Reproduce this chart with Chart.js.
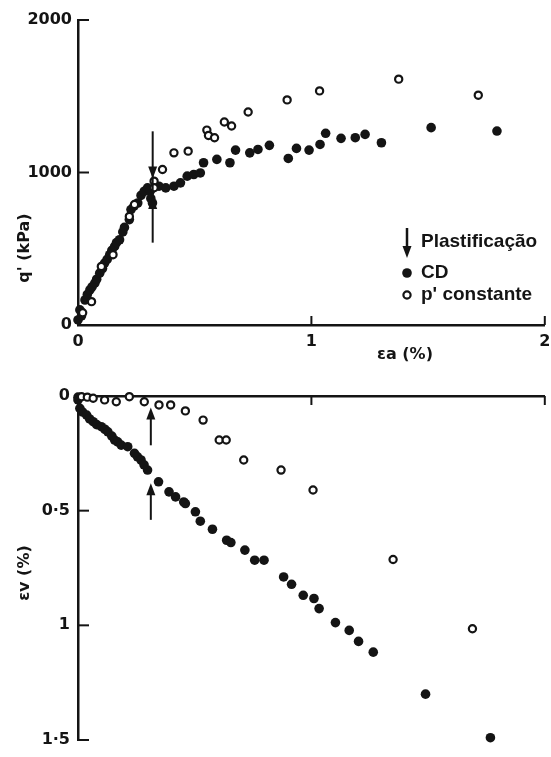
<!DOCTYPE html>
<html>
<head>
<meta charset="utf-8">
<title>q' e εv versus εa</title>
<script src="https://cdn.jsdelivr.net/npm/chart.js@4/dist/chart.umd.min.js"></script>
<style>
  html, body { margin: 0; padding: 0; background: #fff; }
  #wrap { position: relative; width: 551px; height: 757px; }
  #topChart { position: absolute; left: 0; top: 0; }
  #bottomChart { position: absolute; left: 0; top: 360px; }
</style>
</head>
<body>
<div id="wrap">
  <canvas id="topChart" width="551" height="372"></canvas>
  <canvas id="bottomChart" width="551" height="397"></canvas>
</div>
<script>
// --- data: [εa (%), value] ---
const topCD = [
  [0, 33], [0.008, 99], [0.015, 60], [0.03, 164], [0.04, 200], [0.051, 230], [0.06, 250],
  [0.072, 274], [0.08, 300], [0.093, 340], [0.105, 370], [0.114, 406], [0.125, 430],
  [0.136, 461], [0.145, 490], [0.157, 515], [0.165, 540], [0.178, 559], [0.192, 610],
  [0.199, 640], [0.22, 691], [0.227, 757], [0.24, 780], [0.256, 800], [0.27, 850],
  [0.284, 877], [0.298, 899], [0.31, 880], [0.312, 830], [0.319, 800], [0.347, 910],
  [0.376, 899], [0.411, 910], [0.439, 932], [0.468, 976], [0.496, 987], [0.524, 997],
  [0.538, 1064], [0.595, 1086], [0.651, 1064], [0.675, 1147], [0.736, 1129], [0.771, 1151],
  [0.82, 1178], [0.901, 1092], [0.936, 1158], [0.99, 1147], [1.037, 1184], [1.061, 1257],
  [1.127, 1224], [1.188, 1228], [1.23, 1250], [1.3, 1195], [1.513, 1294], [1.795, 1272]
];
const topPConst = [
  [0.02, 80], [0.058, 153], [0.1, 384], [0.15, 461], [0.22, 712], [0.242, 790],
  [0.326, 943], [0.326, 900], [0.362, 1020], [0.411, 1129], [0.472, 1140], [0.552, 1278],
  [0.559, 1243], [0.585, 1228], [0.627, 1331], [0.658, 1305], [0.729, 1397], [0.896, 1476],
  [1.035, 1535], [1.374, 1612], [1.715, 1507]
];
const bottomCD = [
  [0, 0.005], [0, 0.017], [0.008, 0.054], [0.02, 0.07], [0.037, 0.083], [0.05, 0.1],
  [0.065, 0.112], [0.08, 0.125], [0.1, 0.134], [0.115, 0.145], [0.128, 0.156], [0.145, 0.175],
  [0.157, 0.192], [0.17, 0.2], [0.185, 0.214], [0.213, 0.221], [0.242, 0.25], [0.255, 0.265],
  [0.27, 0.279], [0.283, 0.3], [0.298, 0.323], [0.345, 0.374], [0.39, 0.418], [0.418, 0.44],
  [0.453, 0.462], [0.46, 0.469], [0.503, 0.505], [0.524, 0.546], [0.576, 0.581], [0.637, 0.629],
  [0.655, 0.639], [0.715, 0.672], [0.757, 0.716], [0.797, 0.716], [0.881, 0.789], [0.915, 0.821],
  [0.965, 0.869], [1.011, 0.883], [1.033, 0.927], [1.103, 0.988], [1.162, 1.022], [1.202, 1.07],
  [1.265, 1.117], [1.489, 1.3], [1.767, 1.49]
];
const bottomPConst = [
  [0.015, 0.003], [0.04, 0.005], [0.065, 0.01], [0.114, 0.017], [0.164, 0.025], [0.22, 0.003],
  [0.284, 0.025], [0.347, 0.039], [0.397, 0.039], [0.46, 0.065], [0.536, 0.105], [0.605, 0.192],
  [0.635, 0.192], [0.71, 0.279], [0.87, 0.323], [1.007, 0.41], [1.35, 0.713], [1.69, 1.015]
];

// plastificação markers: [εa, from, to]  (arrow head at "to")
const topArrowStem = [0.32, 1270, 540];
const topArrowHeads = [[0.32, 1060, 960], [0.32, 740, 840]];
const bottomArrows = [[0.312, 0.215, 0.05], [0.312, 0.54, 0.38]];

const topYTicks = [0, 1000, 2000];
const bottomYTicks = ["0", "0·5", "1", "1·5"];
const legendLabels = ["Plastificação", "CD", "p' constante"];

const ink = "#141414";
const tickFont = { family: "DejaVu Sans", weight: "bold", size: 16 };

const toXY = (arr) => arr.map((p) => ({ x: p[0], y: p[1] }));

// short tick marks pointing into the plot
const inwardTicks = {
  id: "inwardTicks",
  afterDraw(chart, args, opts) {
    const { ctx, chartArea: a } = chart;
    const xs = chart.scales.x;
    const ys = chart.scales.y;
    ctx.save();
    ctx.strokeStyle = ink;
    ctx.lineWidth = 2;
    xs.ticks.forEach((t) => {
      if (t.value === 0) return;
      const px = xs.getPixelForValue(t.value);
      const y0 = xs.position === "top" ? a.top : a.bottom;
      const dir = xs.position === "top" ? 1 : -1;
      ctx.beginPath();
      ctx.moveTo(px, y0);
      ctx.lineTo(px, y0 + dir * 9);
      ctx.stroke();
    });
    ys.ticks.forEach((t) => {
      if (t.value === 0) return;
      const py = ys.getPixelForValue(t.value);
      ctx.beginPath();
      ctx.moveTo(a.left, py);
      ctx.lineTo(a.left + 11, py);
      ctx.stroke();
    });
    ctx.restore();
  },
};

function drawHead(ctx, x, yTip, dir) {
  // dir = 1 points down, -1 points up
  ctx.beginPath();
  ctx.moveTo(x, yTip);
  ctx.lineTo(x - 4.5, yTip - dir * 12);
  ctx.lineTo(x + 4.5, yTip - dir * 12);
  ctx.closePath();
  ctx.fill();
}

const plastArrows = {
  id: "plastArrows",
  afterDatasetsDraw(chart, args, opts) {
    const { ctx } = chart;
    const xs = chart.scales.x;
    const ys = chart.scales.y;
    ctx.save();
    ctx.strokeStyle = ink;
    ctx.fillStyle = ink;
    ctx.lineWidth = 2;
    (opts.stems || []).forEach((s) => {
      const px = xs.getPixelForValue(s[0]);
      ctx.beginPath();
      ctx.moveTo(px, ys.getPixelForValue(s[1]));
      ctx.lineTo(px, ys.getPixelForValue(s[2]));
      ctx.stroke();
    });
    (opts.heads || []).forEach((h) => {
      const px = xs.getPixelForValue(h[0]);
      const from = ys.getPixelForValue(h[1]);
      const tip = ys.getPixelForValue(h[2]);
      drawHead(ctx, px, tip, tip > from ? 1 : -1);
    });
    (opts.arrows || []).forEach((h) => {
      const px = xs.getPixelForValue(h[0]);
      const from = ys.getPixelForValue(h[1]);
      const tip = ys.getPixelForValue(h[2]);
      const dir = tip > from ? 1 : -1;
      ctx.beginPath();
      ctx.moveTo(px, from);
      ctx.lineTo(px, tip - dir * 8);
      ctx.stroke();
      drawHead(ctx, px, tip, dir);
    });
    ctx.restore();
  },
};

// axis titles placed like in the scan (off-centre)
const axisTitles = {
  id: "axisTitles",
  afterDraw(chart, args, opts) {
    const { ctx } = chart;
    ctx.save();
    ctx.fillStyle = ink;
    ctx.font = "bold 16px 'DejaVu Sans'";
    ctx.textAlign = "center";
    ctx.textBaseline = "middle";
    (opts.items || []).forEach((it) => {
      ctx.save();
      ctx.translate(it.x, it.y);
      if (it.rotate) ctx.rotate(-Math.PI / 2);
      ctx.fillText(it.text, 0, 0);
      ctx.restore();
    });
    ctx.restore();
  },
};

const sideLegend = {
  id: "sideLegend",
  afterDraw(chart, args, opts) {
    if (!opts.show) return;
    const { ctx } = chart;
    const sx = 407;
    const tx = 421;
    const rows = [242, 273, 295];
    ctx.save();
    ctx.fillStyle = ink;
    ctx.strokeStyle = ink;
    ctx.font = "bold 19px 'Liberation Sans'";
    ctx.textBaseline = "middle";
    ctx.textAlign = "left";
    // arrow
    ctx.lineWidth = 2.5;
    ctx.beginPath();
    ctx.moveTo(sx, 228);
    ctx.lineTo(sx, 250);
    ctx.stroke();
    drawHead(ctx, sx, 258, 1);
    ctx.fillText(legendLabels[0], tx, rows[0]);
    // filled dot
    ctx.beginPath();
    ctx.arc(sx, rows[1], 4.8, 0, Math.PI * 2);
    ctx.fill();
    ctx.fillText(legendLabels[1], tx, rows[1]);
    // open dot
    ctx.lineWidth = 2.2;
    ctx.beginPath();
    ctx.arc(sx, rows[2], 3.6, 0, Math.PI * 2);
    ctx.stroke();
    ctx.fillText(legendLabels[2], tx, rows[2]);
    ctx.restore();
  },
};

function datasets(cd, pc) {
  return [
    {
      label: legendLabels[2],
      data: toXY(pc),
      pointStyle: "circle",
      pointRadius: 3.6,
      pointBorderWidth: 2.2,
      borderColor: ink,
      backgroundColor: "#fff",
      clip: false,
    },
    {
      label: legendLabels[1],
      data: toXY(cd),
      pointStyle: "circle",
      pointRadius: 4.8,
      pointBorderWidth: 0,
      borderColor: ink,
      backgroundColor: ink,
      clip: false,
    },
  ];
}

const axisBorder = { display: true, color: ink, width: 2.5 };
const noGrid = { display: false, drawTicks: false, tickLength: 0 };

// top: q' vs εa
new Chart(document.getElementById("topChart"), {
  type: "scatter",
  data: { datasets: datasets(topCD, topPConst) },
  options: {
    responsive: false,
    animation: false,
    layout: { padding: { top: 20, right: 1, bottom: 0, left: 0 } },
    scales: {
      x: {
        type: "linear",
        min: 0,
        max: 2,
        border: axisBorder,
        grid: noGrid,
        ticks: { stepSize: 1, padding: 7, color: ink, font: tickFont, maxRotation: 0 },
        afterFit: (s) => {
          s.height = 47;
          s.paddingLeft = 0;
          s.paddingRight = 0;
        },
      },
      y: {
        type: "linear",
        min: 0,
        max: 2000,
        border: axisBorder,
        grid: noGrid,
        afterBuildTicks: (s) => {
          s.ticks = topYTicks.map((v) => ({ value: v }));
        },
        ticks: { padding: 6, color: ink, font: tickFont, callback: (v) => String(v) },
        afterFit: (s) => {
          s.width = 78;
          s.paddingTop = 0;
          s.paddingBottom = 0;
        },
      },
    },
    plugins: {
      legend: { display: false },
      tooltip: { enabled: false },
      plastArrows: { stems: [topArrowStem], heads: topArrowHeads },
      axisTitles: {
        items: [
          { text: "q' (kPa)", x: 25, y: 248, rotate: true },
          { text: "εa (%)", x: 405, y: 355 },
        ],
      },
      sideLegend: { show: true },
    },
  },
  plugins: [inwardTicks, plastArrows, axisTitles, sideLegend],
});

// bottom: εv vs εa (reversed)
new Chart(document.getElementById("bottomChart"), {
  type: "scatter",
  data: { datasets: datasets(bottomCD, bottomPConst) },
  options: {
    responsive: false,
    animation: false,
    layout: { padding: { top: 0, right: 1, bottom: 17, left: 0 } },
    scales: {
      x: {
        type: "linear",
        position: "top",
        min: 0,
        max: 2,
        border: axisBorder,
        grid: noGrid,
        ticks: { stepSize: 1, display: false },
        afterFit: (s) => {
          s.height = 36;
          s.paddingLeft = 0;
          s.paddingRight = 0;
        },
      },
      y: {
        type: "linear",
        reverse: true,
        min: 0,
        max: 1.5,
        border: axisBorder,
        grid: noGrid,
        ticks: {
          stepSize: 0.5,
          padding: 8,
          color: ink,
          font: tickFont,
          callback: (v) => bottomYTicks[Math.round(v / 0.5)],
        },
        afterFit: (s) => {
          s.width = 78;
          s.paddingTop = 0;
          s.paddingBottom = 0;
        },
      },
    },
    plugins: {
      legend: { display: false },
      tooltip: { enabled: false },
      plastArrows: { arrows: bottomArrows },
      axisTitles: { items: [{ text: "εv (%)", x: 25, y: 213, rotate: true }] },
      sideLegend: { show: false },
    },
  },
  plugins: [inwardTicks, plastArrows, axisTitles, sideLegend],
});
</script>
</body>
</html>
